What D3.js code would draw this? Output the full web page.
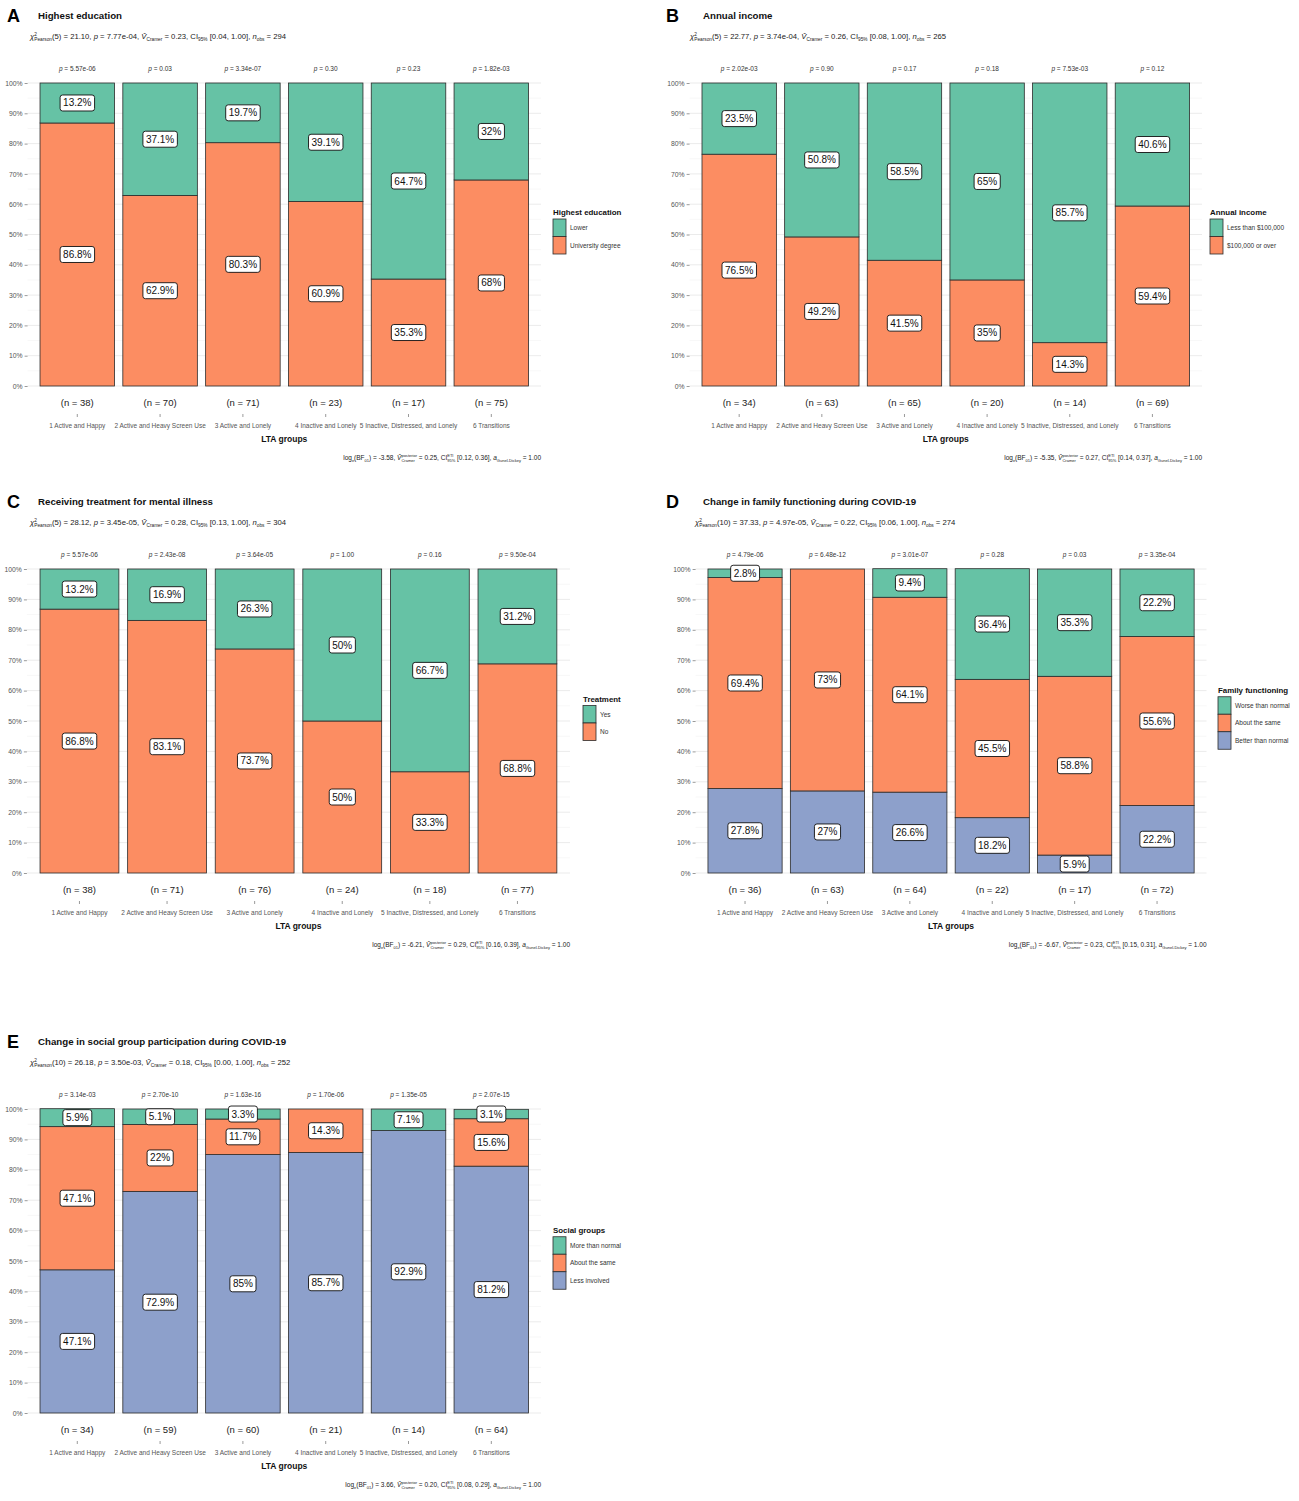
<!DOCTYPE html>
<html><head><meta charset="utf-8">
<script src="https://cdn.jsdelivr.net/npm/d3@7"></script>
<style>body{margin:0;background:#fff}svg{display:block}</style>
</head><body><svg id="c" width="1299" height="1501"></svg>
<script>
// ---------- DATA ----------
const groups = ["1 Active and Happy","2 Active and Heavy Screen Use","3 Active and Lonely","4 Inactive and Lonely","5 Inactive, Distressed, and Lonely","6 Transitions"];
const yTicks = [0,10,20,30,40,50,60,70,80,90,100];

// A: Highest education
const eduLevels = ["Lower","University degree"];
const eduLower = [13.2,37.1,19.7,39.1,64.7,32];
const eduUni = [86.8,62.9,80.3,60.9,35.3,68];
const eduN = [38,70,71,23,17,75];
const eduP = ["5.57e-06","0.03","3.34e-07","0.30","0.23","1.82e-03"];
const eduSub = ["5","21.10","7.77e-04","0.23","[0.04, 1.00]","294"];
const eduCap = ["-3.58","0.25","[0.12, 0.36]","1.00"];

// B: Annual income
const incLevels = ["Less than $100,000","$100,000 or over"];
const incLess = [23.5,50.8,58.5,65,85.7,40.6];
const incOver = [76.5,49.2,41.5,35,14.3,59.4];
const incN = [34,63,65,20,14,69];
const incP = ["2.02e-03","0.90","0.17","0.18","7.53e-03","0.12"];
const incSub = ["5","22.77","3.74e-04","0.26","[0.08, 1.00]","265"];
const incCap = ["-5.35","0.27","[0.14, 0.37]","1.00"];

// C: Receiving treatment
const trtLevels = ["Yes","No"];
const trtYes = [13.2,16.9,26.3,50,66.7,31.2];
const trtNo = [86.8,83.1,73.7,50,33.3,68.8];
const trtN = [38,71,76,24,18,77];
const trtP = ["5.57e-06","2.43e-08","3.64e-05","1.00","0.16","9.50e-04"];
const trtSub = ["5","28.12","3.45e-05","0.28","[0.13, 1.00]","304"];
const trtCap = ["-6.21","0.29","[0.16, 0.39]","1.00"];

// D: Family functioning
const famLevels = ["Worse than normal","About the same","Better than normal"];
const famWorse = [2.8,0,9.4,36.4,35.3,22.2];
const famSame = [69.4,73,64.1,45.5,58.8,55.6];
const famBetter = [27.8,27,26.6,18.2,5.9,22.2];
const famN = [36,63,64,22,17,72];
const famP = ["4.79e-06","6.48e-12","3.01e-07","0.28","0.03","3.35e-04"];
const famSub = ["10","37.33","4.97e-05","0.22","[0.06, 1.00]","274"];
const famCap = ["-6.67","0.23","[0.15, 0.31]","1.00"];

// E: Social groups
const socLevels = ["More than normal","About the same","Less involved"];
const socMore = [5.9,5.1,3.3,0,7.1,3.1];
const socSame = [47.1,22,11.7,14.3,0,15.6];
const socLess = [47.1,72.9,85,85.7,92.9,81.2];
const socN = [34,59,60,21,14,64];
const socP = ["3.14e-03","2.70e-10","1.63e-16","1.70e-06","1.35e-05","2.07e-15"];
const socSub = ["10","26.18","3.50e-03","0.18","[0.00, 1.00]","252"];
const socCap = ["3.66","0.20","[0.08, 0.29]","1.00"];

const GREEN="#66C2A5", ORANGE="#FC8D62", BLUE="#8DA0CB";

// ---------- DRAWING ----------
const F = "'Liberation Sans Narrow','Arial Narrow','Liberation Sans',Arial,sans-serif";
const svg = d3.select("#c");

function rich(sel, x, y, parts, size, fill, anchor){
  const t = sel.append("text").attr("x",x).attr("y",y).attr("font-size",size)
    .attr("fill",fill).attr("font-family",F).attr("text-anchor",anchor||"start");
  let shift=0, supLen=0, pend=0;
  parts.forEach(([txt,mode])=>{
    const target = mode==="sup" ? -size*0.45 : (mode==="sub"||mode==="subback") ? size*0.3 : 0;
    const ts = t.append("tspan").text(txt).attr("dy", target-shift);
    if(mode==="sup"||mode==="sub"||mode==="subback") ts.attr("font-size", size*0.62);
    if(mode==="i") ts.attr("font-style","italic");
    if(mode==="subback") ts.attr("dx", -supLen);
    else if(pend>0){ ts.attr("dx", pend); pend=0; }
    shift = target;
    const len = ts.node().getComputedTextLength();
    if(mode==="sup") supLen=len;
    if(mode==="subback"){ pend = Math.max(0, supLen-len); }
  });
  return t;
}

function panel(cfg, levels, series, colors, ns, ps, sub, cap, legendTitle){
  const g = svg.append("g");
  const x = d3.scaleBand().domain(groups).range([cfg.pl,cfg.pr]).paddingInner(0.1).paddingOuter(0.15);
  const y = d3.scaleLinear().domain([0,100]).range([cfg.yBot,cfg.yTop]);

  // grid
  const minor = d3.range(5,100,10);
  g.selectAll(".mn").data(minor).join("line").attr("x1",cfg.pl).attr("x2",cfg.pr)
    .attr("y1",d=>y(d)).attr("y2",d=>y(d)).attr("stroke","#f2f2f2").attr("stroke-width",0.6);
  g.selectAll(".mj").data(yTicks).join("line").attr("x1",cfg.pl).attr("x2",cfg.pr)
    .attr("y1",d=>y(d)).attr("y2",d=>y(d)).attr("stroke","#e6e6e6").attr("stroke-width",0.8);

  // y axis
  const ya = g.append("g").attr("transform",`translate(${cfg.pl},0)`)
    .call(d3.axisLeft(y).tickValues(yTicks).tickFormat(d=>d+"%").tickSize(3).tickPadding(2));
  ya.select(".domain").remove();
  ya.selectAll("line").attr("stroke","#555").attr("stroke-width",0.6);
  ya.selectAll("text").attr("font-family",F).attr("font-size",6.8).attr("fill","#555");

  // stacked bars: series[0] at top, last at bottom
  const nS = series.length;
  groups.forEach((grp,i)=>{
    let base = 0;
    for(let s=nS-1;s>=0;s--){
      const v = series[s][i];
      if(v>0){
        g.append("rect").attr("x",x(grp)).attr("width",x.bandwidth())
          .attr("y",y(base+v)).attr("height",y(base)-y(base+v))
          .attr("fill",colors[s]).attr("stroke","#2b2b2b").attr("stroke-width",0.8);
      }
      base += v;
    }
  });
  // labels
  groups.forEach((grp,i)=>{
    let base = 0;
    for(let s=nS-1;s>=0;s--){
      const v = series[s][i];
      if(v>0){
        const cx = x(grp)+x.bandwidth()/2, cy = y(base+v/2);
        const lg = g.append("g");
        const r = lg.append("rect");
        const t = lg.append("text").attr("x",cx).attr("y",cy).attr("dy","0.35em")
          .attr("text-anchor","middle").attr("font-family",F).attr("font-size",10)
          .attr("fill","#111").text(v+"%");
        const bb = t.node().getBBox();
        r.attr("x",bb.x-3).attr("y",cy-8).attr("width",bb.width+6).attr("height",16)
          .attr("rx",2.5).attr("fill","#fff").attr("stroke","#111").attr("stroke-width",0.9);
      }
      base += v;
    }
  });

  // p labels
  groups.forEach((grp,i)=>{
    rich(g, x(grp)+x.bandwidth()/2, cfg.yTop-12.5, [["p","i"],[" = "+ps[i],"n"]], 6.5, "#333", "middle");
  });
  // n labels
  g.selectAll(".nl").data(groups).join("text").attr("x",d=>x(d)+x.bandwidth()/2)
    .attr("y",cfg.yBot+20).attr("text-anchor","middle").attr("font-family",F)
    .attr("font-size",9.5).attr("fill","#222").text((d,i)=>`(n = ${ns[i]})`);
  // x axis
  const xa = g.append("g").attr("transform",`translate(0,${cfg.yBot+28})`)
    .call(d3.axisBottom(x).tickSize(3).tickPadding(6));
  xa.select(".domain").remove();
  xa.selectAll("line").attr("stroke","#555").attr("stroke-width",0.6);
  xa.selectAll("text").attr("font-family",F).attr("font-size",6.5).attr("fill","#555");
  g.append("text").attr("x",(cfg.pl+cfg.pr)/2).attr("y",cfg.yBot+56).attr("text-anchor","middle")
    .attr("font-family",F).attr("font-size",8.5).attr("font-weight","bold").attr("fill","#111").text("LTA groups");

  // titles
  g.append("text").attr("x",cfg.lx).attr("y",cfg.yTop-61).attr("font-family","'Liberation Sans',Arial,sans-serif")
    .attr("font-size",18).attr("font-weight","bold").attr("fill","#000").text(cfg.letter);
  g.append("text").attr("x",cfg.tx).attr("y",cfg.yTop-64.5).attr("font-family",F)
    .attr("font-size",9.7).attr("font-weight","bold").attr("fill","#111").text(cfg.title);
  rich(g, cfg.sx, cfg.yTop-44, [["χ","i"],["2","sup"],["Pearson","subback"],[`(${sub[0]}) = ${sub[1]}, `,"n"],["p","i"],[` = ${sub[2]}, `,"n"],["V̂","i"],["Cramer","sub"],[` = ${sub[3]}, CI`,"n"],["95%","sub"],[` ${sub[4]}, `,"n"],["n","i"],["obs","sub"],[` = ${sub[5]}`,"n"]], 7.7, "#222");
  rich(g, cfg.pr, cfg.yBot+74, [["log","n"],["e","sub"],["(BF","n"],["01","sub"],[`) = ${cap[0]}, `,"n"],["V̂","i"],["posterior","sup"],["Cramer","subback"],[` = ${cap[1]}, CI`,"n"],["ETI","sup"],["95%","subback"],[` ${cap[2]}, `,"n"],["a","i"],["Gunel-Dickey","sub"],[` = ${cap[3]}`,"n"]], 6.5, "#222", "end");

  // legend
  const kh = 17.5, kw = 13;
  const total = 12 + levels.length*kh;
  const top = (cfg.yTop+cfg.yBot)/2 - total/2 - 4;
  g.append("text").attr("x",cfg.legX).attr("y",top+8).attr("font-family",F).attr("font-size",7.9)
    .attr("font-weight","bold").attr("fill","#111").text(legendTitle);
  levels.forEach((lv,k)=>{
    g.append("rect").attr("x",cfg.legX).attr("y",top+12+k*kh).attr("width",kw).attr("height",kh)
      .attr("fill",colors[k]).attr("stroke","#2b2b2b").attr("stroke-width",0.8);
    g.append("text").attr("x",cfg.legX+kw+4).attr("y",top+12+k*kh+kh/2).attr("dy","0.35em")
      .attr("font-family",F).attr("font-size",6.5).attr("fill","#333").text(lv);
  });
}

panel({letter:"A",lx:7,tx:38,sx:30,title:"Highest education",pl:27.6,pr:541,yTop:83,yBot:386,legX:553},
  eduLevels,[eduLower,eduUni],[GREEN,ORANGE],eduN,eduP,eduSub,eduCap,"Highest education");
panel({letter:"B",lx:666,tx:703,sx:690,title:"Annual income",pl:689.6,pr:1202,yTop:83,yBot:386,legX:1210},
  incLevels,[incLess,incOver],[GREEN,ORANGE],incN,incP,incSub,incCap,"Annual income");
panel({letter:"C",lx:7,tx:38,sx:30,title:"Receiving treatment for mental illness",pl:26.9,pr:570,yTop:569,yBot:873,legX:583},
  trtLevels,[trtYes,trtNo],[GREEN,ORANGE],trtN,trtP,trtSub,trtCap,"Treatment");
panel({letter:"D",lx:666,tx:703,sx:695,title:"Change in family functioning during COVID-19",pl:695.6,pr:1206.5,yTop:569,yBot:873,legX:1218},
  famLevels,[famWorse,famSame,famBetter],[GREEN,ORANGE,BLUE],famN,famP,famSub,famCap,"Family functioning");
panel({letter:"E",lx:7,tx:38,sx:30,title:"Change in social group participation during COVID-19",pl:27.6,pr:541,yTop:1109,yBot:1413,legX:553},
  socLevels,[socMore,socSame,socLess],[GREEN,ORANGE,BLUE],socN,socP,socSub,socCap,"Social groups");
</script></body></html>
